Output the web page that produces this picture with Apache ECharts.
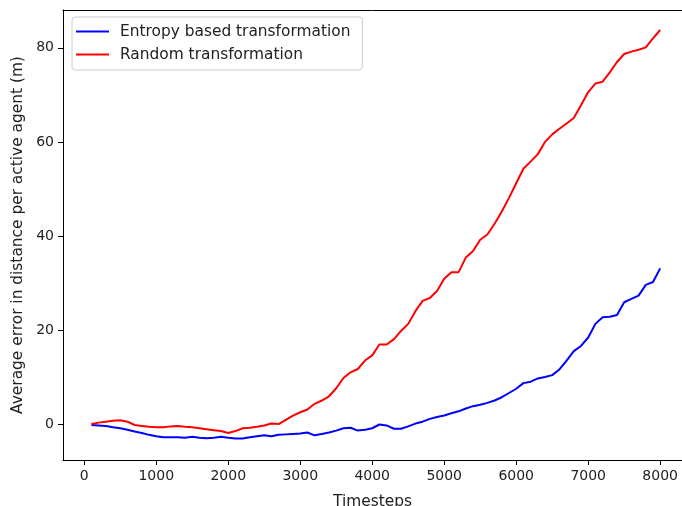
<!DOCTYPE html>
<html>
<head>
<meta charset="utf-8">
<script src="https://cdn.jsdelivr.net/npm/echarts@6/dist/echarts.min.js"></script>
<style>
  html, body { margin: 0; padding: 0; background: #fff; }
  #chart { width: 682px; height: 506px; }
</style>
</head>
<body>
<div id="chart"></div>
<script>
// Timesteps at which the error was sampled
const timesteps = [
  100, 200, 300, 400, 500, 600, 700, 800, 900, 1000,
  1100, 1200, 1300, 1400, 1500, 1600, 1700, 1800, 1900, 2000,
  2100, 2200, 2300, 2400, 2500, 2600, 2700, 2800, 2900, 3000,
  3100, 3200, 3300, 3400, 3500, 3600, 3700, 3800, 3900, 4000,
  4100, 4200, 4300, 4400, 4500, 4600, 4700, 4800, 4900, 5000,
  5100, 5200, 5300, 5400, 5500, 5600, 5700, 5800, 5900, 6000,
  6100, 6200, 6300, 6400, 6500, 6600, 6700, 6800, 6900, 7000,
  7100, 7200, 7300, 7400, 7500, 7600, 7700, 7800, 7900, 8000
];

// Average error (m) with the entropy based transformation
const entropyError = [
  -0.2, -0.3, -0.4, -0.7, -0.9, -1.2, -1.6, -1.9, -2.3, -2.6,
  -2.8, -2.8, -2.8, -2.9, -2.7, -2.9, -3.0, -2.9, -2.7, -2.9,
  -3.1, -3.1, -2.8, -2.6, -2.4, -2.6, -2.3, -2.2, -2.1, -2.0,
  -1.8, -2.4, -2.1, -1.8, -1.4, -0.9, -0.8, -1.4, -1.2, -0.9,
  -0.1, -0.3, -1.0, -1.0, -0.5, 0.1, 0.5, 1.1, 1.5, 1.8,
  2.3, 2.7, 3.3, 3.8, 4.1, 4.5, 5.0, 5.7, 6.6, 7.5,
  8.7, 9.0, 9.7, 10.0, 10.4, 11.6, 13.5, 15.5, 16.6, 18.4,
  21.3, 22.7, 22.8, 23.2, 25.9, 26.6, 27.3, 29.6, 30.2, 33.1
];

// Average error (m) with the random transformation
const randomError = [
  0.0, 0.3, 0.5, 0.7, 0.8, 0.5, -0.2, -0.4, -0.6, -0.7,
  -0.7, -0.5, -0.4, -0.6, -0.7, -0.9, -1.1, -1.3, -1.5, -1.9,
  -1.5, -0.9, -0.8, -0.6, -0.3, 0.1, 0.0, 0.9, 1.8, 2.5,
  3.1, 4.3, 5.0, 5.9, 7.6, 9.8, 11.0, 11.7, 13.5, 14.6,
  16.9, 16.9, 18.0, 19.8, 21.3, 24.0, 26.2, 26.8, 28.3, 30.9,
  32.3, 32.3, 35.4, 36.8, 39.2, 40.3, 42.6, 45.2, 48.1, 51.2,
  54.3, 55.8, 57.4, 60.0, 61.6, 62.8, 63.9, 65.1, 67.8, 70.6,
  72.4, 72.8, 74.8, 77.0, 78.7, 79.2, 79.6, 80.1, 82.0, 83.8
];

// Tick positions on each axis
const xTicks = [0, 1000, 2000, 3000, 4000, 5000, 6000, 7000, 8000];
const yTicks = [0, 20, 40, 60, 80];

const seriesNames = ['Entropy based transformation', 'Random transformation'];

const pairs = (ys) => timesteps.map((t, i) => [t, ys[i]]);
const plain = (v) => String(v);

const textColor = '#222';
const font = 'DejaVu Sans';
const labelSize = 15.4;
const tickSize = 14;

const chart = echarts.init(document.getElementById('chart'), null, { renderer: 'canvas' });

chart.setOption({
  animation: false,
  backgroundColor: '#fff',
  grid: {
    left: 63,
    top: 10,
    right: 0,
    bottom: 46,
    outerBoundsMode: 'none',
    containLabel: false,
    show: false
  },
  legend: {
    data: seriesNames,
    orient: 'vertical',
    left: 72,
    top: 17,
    padding: [7, 12, 8, 4],
    icon: 'rect',
    itemWidth: 33,
    itemHeight: 2,
    itemGap: 8,
    backgroundColor: 'rgba(255,255,255,0.8)',
    borderColor: '#cccccc',
    borderWidth: 1,
    borderRadius: 3,
    textStyle: {
      fontFamily: font,
      fontSize: labelSize,
      color: textColor,
      padding: [0, 0, 0, 6]
    }
  },
  xAxis: [
    {
      type: 'value',
      min: -295,
      max: 8303,
      name: 'Timesteps',
      nameLocation: 'middle',
      nameGap: 34,
      nameTextStyle: { fontFamily: font, fontSize: labelSize, color: textColor },
      axisLine: { show: true, onZero: false, lineStyle: { color: '#000', width: 1 } },
      axisTick: { show: true, inside: false, length: 5, customValues: xTicks, lineStyle: { color: '#000' } },
      axisLabel: { customValues: xTicks, formatter: plain, margin: 9, fontFamily: font, fontSize: tickSize, color: textColor },
      splitLine: { show: false }
    },
    {
      // top frame line
      type: 'value',
      position: 'top',
      min: -295,
      max: 8303,
      axisLine: { show: true, onZero: false, lineStyle: { color: '#000', width: 1 } },
      axisTick: { show: false },
      axisLabel: { show: false },
      splitLine: { show: false }
    }
  ],
  yAxis: {
    type: 'value',
    min: -7.65,
    max: 88.05,
    name: 'Average error in distance per active agent (m)',
    nameLocation: 'middle',
    nameGap: 38,
    nameTextStyle: { fontFamily: font, fontSize: labelSize, color: textColor },
    axisLine: { show: true, onZero: false, lineStyle: { color: '#000', width: 1 } },
    axisTick: { show: true, inside: false, length: 5, customValues: yTicks, lineStyle: { color: '#000' } },
    axisLabel: { customValues: yTicks, formatter: plain, margin: 9, fontFamily: font, fontSize: tickSize, color: textColor },
    splitLine: { show: false }
  },
  series: [
    {
      name: seriesNames[0],
      type: 'line',
      data: pairs(entropyError),
      symbol: 'none',
      lineStyle: { color: '#0000ff', width: 2 },
      itemStyle: { color: '#0000ff' }
    },
    {
      name: seriesNames[1],
      type: 'line',
      data: pairs(randomError),
      symbol: 'none',
      lineStyle: { color: '#ff0000', width: 2 },
      itemStyle: { color: '#ff0000' }
    }
  ]
});
</script>
</body>
</html>
